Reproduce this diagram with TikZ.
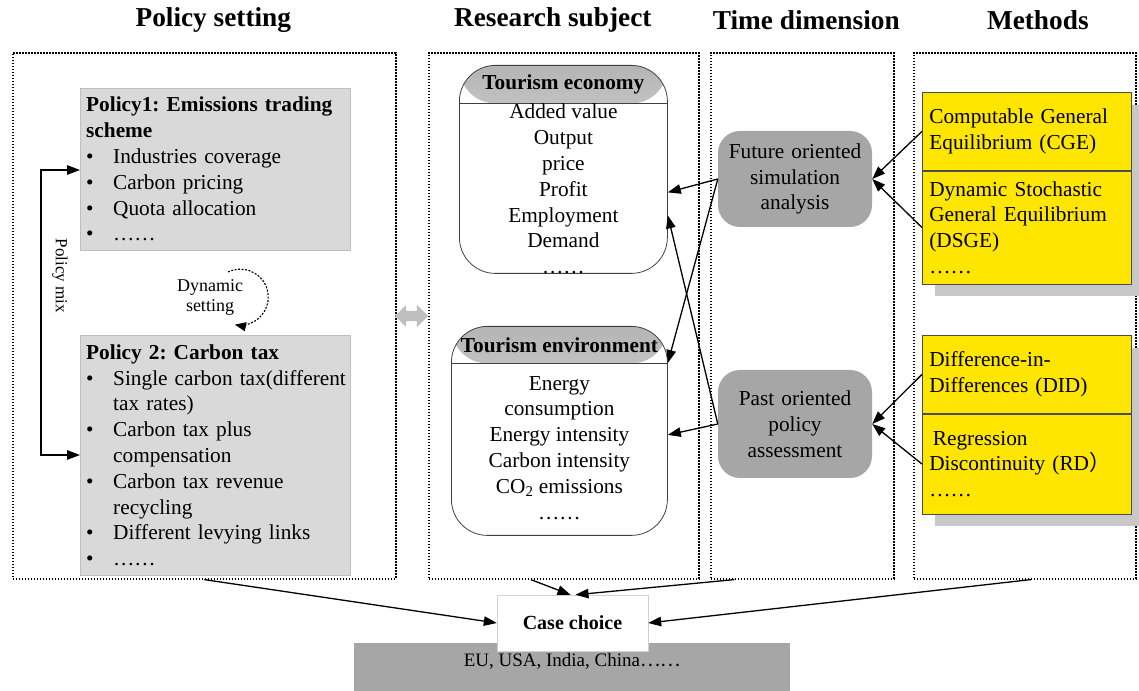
\documentclass[tikz,border=0pt]{standalone}
\usepackage{fontspec}
\setmainfont{Liberation Serif}
\newfontfamily\cjk{Noto Sans CJK SC}
\usetikzlibrary{arrows.meta, positioning, calc, shapes.arrows}
\definecolor{boxgray}{HTML}{D9D9D9}
\definecolor{boxline}{HTML}{BFBFBF}
\definecolor{timegray}{HTML}{A6A6A6}
\definecolor{methyellow}{HTML}{FFE600}
\definecolor{shadowgray}{HTML}{C8C8C8}
\definecolor{headgray}{HTML}{B4B4B4}
\newcommand{\pb}{\makebox[27pt][l]{\textbullet}}
\newcommand{\pc}{\hspace*{27pt}}
\newcommand{\bodysize}{\fontsize{21.3}{25.8}\selectfont}
\frenchspacing

\begin{document}
\begin{tikzpicture}[x=1pt, y=1pt,
  panel/.style={draw, line width=1.6pt, dash pattern=on 1.6pt off 1.4pt, inner sep=0, anchor=north west},
  heading/.style={font=\fontsize{27.3}{30}\selectfont\bfseries},
  polbox/.style={draw=boxline, fill=boxgray, text width=258, inner xsep=6, align=left, anchor=north west, font=\bodysize},
  subjbox/.style={draw=black!75, line width=0.8pt, rounded corners=36, inner sep=0, anchor=north west,
    path picture={\shade[top color=headgray, bottom color=white] (path picture bounding box.north west) rectangle ([yshift=-#1]path picture bounding box.north east);
      \draw[line width=0.8pt, black!75] ([yshift=-#1]path picture bounding box.north west) -- ([yshift=-#1]path picture bounding box.north east);}},
  subjtitle/.style={font=\fontsize{21.3}{25.8}\selectfont\bfseries, inner sep=0},
  subjlist/.style={font=\bodysize, align=center, inner sep=0, anchor=north},
  timebox/.style={fill=timegray, rounded corners=22, minimum width=154, text width=140, align=center, font=\bodysize, inner sep=0},
  methbox/.style={draw=black!70, fill=methyellow, line width=0.7pt, minimum width=209, text width=195, inner xsep=7, align=left, font=\bodysize},
  shadowbox/.style={fill=shadowgray, inner sep=0, anchor=north west},
  arr/.style={-{Triangle[length=13pt,width=9.5pt]}, line width=1.3pt},
  loop/.style={-{Triangle[length=11pt,width=9pt]}, line width=1.1pt, dash pattern=on 2pt off 1.5pt}
]
\useasboundingbox (0,0) rectangle (1139,690);

% --- Panels ---
\node[panel, minimum width=383, minimum height=526] (setting) at (12,638) {};
\node[panel, minimum width=270, minimum height=526] (subject) at (428,638) {};
\node[panel, minimum width=183, minimum height=526] (time) at (710,638) {};
\node[panel, minimum width=222, minimum height=526] (methods) at (913,638) {};

\node[heading] (hsetting) at ([xshift=9,yshift=32]setting.north) {Policy setting};
\node[heading] (hsubject) at ([xshift=-11,yshift=32]subject.north) {Research subject};
\node[heading] (htime) at ([xshift=4,yshift=32]time.north) {Time dimension};
\node[heading] (hmethods) at ([xshift=13,yshift=32]methods.north) {Methods};

% --- Policy setting ---
\node[polbox, minimum height=162] (pol1) at (80,602)
{\textbf{Policy1: Emissions trading}\\
\textbf{scheme}\\
\pb Industries coverage\\
\pb Carbon pricing\\
\pb Quota allocation\\
\pb ……};

\node[polbox, minimum height=240] (pol2) at (80,355)
{\textbf{Policy 2: Carbon tax}\\
\pb \mbox{Single carbon tax(different}\\
\pc tax rates)\\
\pb Carbon tax plus\\
\pc compensation\\
\pb Carbon tax revenue\\
\pc recycling\\
\pb Different levying links\\
\pb ……};

\draw[{Triangle[length=13pt,width=9.5pt]}-{Triangle[length=13pt,width=9.5pt]}, line width=1.3pt]
  ([yshift=-82]pol1.north west) -- ++(-39,0) |- ([yshift=-120]pol2.north west);
\node[rotate=-90, font=\fontsize{17}{20}\selectfont] (mix) at (60,414) {Policy mix};

\node[font=\fontsize{18}{20}\selectfont, align=center] (dyn) at (210,393) {Dynamic\\setting};
\draw[loop] ($(dyn.center)+(18,25)$) arc[start angle=116, end angle=-101, radius=28];

\node[double arrow, fill=boxline, draw=none, minimum height=33, minimum width=22, inner sep=5,
  double arrow head extend=6, double arrow head indent=0] (swap) at (411.5,374) {};

% --- Research subject ---
\node[subjbox=38, minimum width=208, minimum height=208] (econ) at (459,625) {};
\node[subjtitle] (econtitle) at ([yshift=-19]econ.north) {Tourism economy};
\node[subjlist] (econlist) at ([yshift=-39]econ.north)
{Added value\\Output\\price\\Profit\\Employment\\Demand\\……};

\node[subjbox=37, minimum width=216, minimum height=209] (env) at (451,364) {};
\node[subjtitle] (envtitle) at ([yshift=-19]env.north) {Tourism environment};
\node[subjlist] (envlist) at ([yshift=-50]env.north)
{Energy\\consumption\\Energy intensity\\Carbon intensity\\CO\textsubscript{2} emissions\\……};

% --- Time dimension ---
\node[timebox, minimum height=96] (future) at (795,511) {Future oriented\\simulation\\analysis};
\node[timebox, minimum height=108] (past) at (795,266) {Past oriented\\policy\\assessment};

% --- Methods ---
\node[shadowbox, minimum width=209, minimum height=191] (shadow1) at (935,585) {};
\node[methbox, minimum height=78, anchor=north west] (cge) at (922,598) {Computable General\\Equilibrium (CGE)};
\node[methbox, minimum height=113, anchor=north] (dsge) at (cge.south) {Dynamic Stochastic\\General Equilibrium\\(DSGE)\\……};

\node[shadowbox, minimum width=209, minimum height=178] (shadow2) at (935,342) {};
\node[methbox, minimum height=78, anchor=north west] (did) at (922,355) {Difference-in-\\Differences (DID)};
\node[methbox, minimum height=100, anchor=north] (rd) at (did.south) {\,Regression\\Discontinuity (RD{\cjk ）}\\……};

% --- Case choice ---
\node[fill=timegray, minimum width=436, inner ysep=0, text height=23.5, text depth=30, anchor=north,
  font=\fontsize{19}{22}\selectfont] (eu) at (572,47) {EU, USA, India, China{\cjk ……}};
\node[draw=black!18, fill=white, minimum width=151, minimum height=56,
  font=\fontsize{20}{24}\selectfont\bfseries] (case) at (572.5,67) {Case choice};

% --- Arrows ---
\draw[arr] (future.west) -- ([yshift=-23]econ.east);
\draw[arr] (future.west) -- ([yshift=-37]env.north east);
\draw[arr] (past.west) -- ([yshift=-4]env.east);
\draw[arr] (past.west) -- ([yshift=-46]econ.east);

\draw[arr] (cge.west) -- (future.east);
\draw[arr] (dsge.west) -- (future.east);
\draw[arr] (did.west) -- (past.east);
\draw[arr] (rd.west) -- (past.east);

\draw[arr] (setting.south) -- (case.west);
\draw[arr] ([xshift=-33]subject.south) -- ([xshift=-2]case.north);
\draw[arr] ([xshift=-68]time.south) -- ([xshift=3]case.north);
\draw[arr] ([xshift=6]methods.south) -- (case.east);

\end{tikzpicture}
\end{document}
